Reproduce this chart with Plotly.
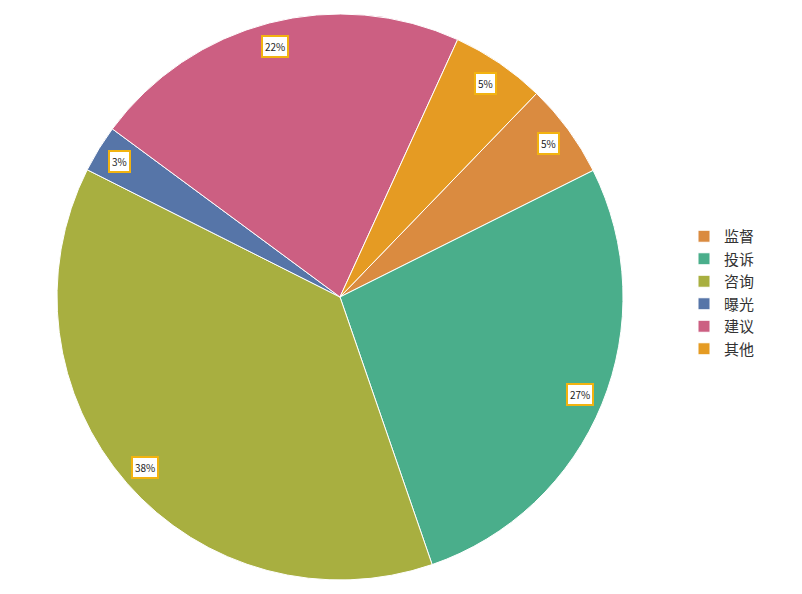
import math
import plotly.graph_objects as go

labels = ["监督", "投诉", "咨询", "曝光", "建议", "其他"]
values = [54, 271, 377, 27, 217, 54]
colors = ["#DA8B40", "#4AAE8B", "#A8AF40", "#5675A8", "#CC5F82", "#E59B23"]

W, H = 802, 594
OFF = 8  # page body margin
cx, cy, R = 340 - OFF, 297 - OFF, 283
rotation = 44

fig = go.Figure(go.Pie(
    labels=labels, values=values, sort=False, direction="clockwise",
    rotation=rotation, textinfo="none", hoverinfo="label+percent",
    marker=dict(colors=colors, line=dict(color="white", width=1)),
    domain=dict(x=[(cx - R) / W, (cx + R) / W], y=[1 - (cy + R) / H, 1 - (cy - R) / H]),
))

total = sum(values)
annotations = []
cum = 0
for v in values:
    mid = rotation + (cum + v / 2) / total * 360
    cum += v
    t = math.radians(mid)
    px = cx + 0.915 * R * math.sin(t)
    py = cy - 0.915 * R * math.cos(t)
    annotations.append(dict(
        x=px / W, y=1 - py / H, xref="paper", yref="paper",
        xanchor="center", yanchor="middle",
        text=f"{round(v / total * 100)}%", showarrow=False,
        font=dict(size=10, color="#222", family="Noto Sans CJK SC"),
        bgcolor="white", bordercolor="#F2B310", borderwidth=2, borderpad=2,
    ))

fig.update_layout(
    width=W, height=H, margin=dict(l=0, r=0, t=0, b=0),
    paper_bgcolor="white", plot_bgcolor="white",
    annotations=annotations,
    showlegend=True,
    legend=dict(x=(684 - OFF) / W, y=1 - (220 - OFF) / H, xanchor="left", yanchor="top",
                font=dict(size=15, color="#333", family="Noto Sans CJK SC"),
                itemwidth=30, bgcolor="rgba(0,0,0,0)"),
    font=dict(family="Noto Sans CJK SC"),
)

fig.write_html("out.html")
